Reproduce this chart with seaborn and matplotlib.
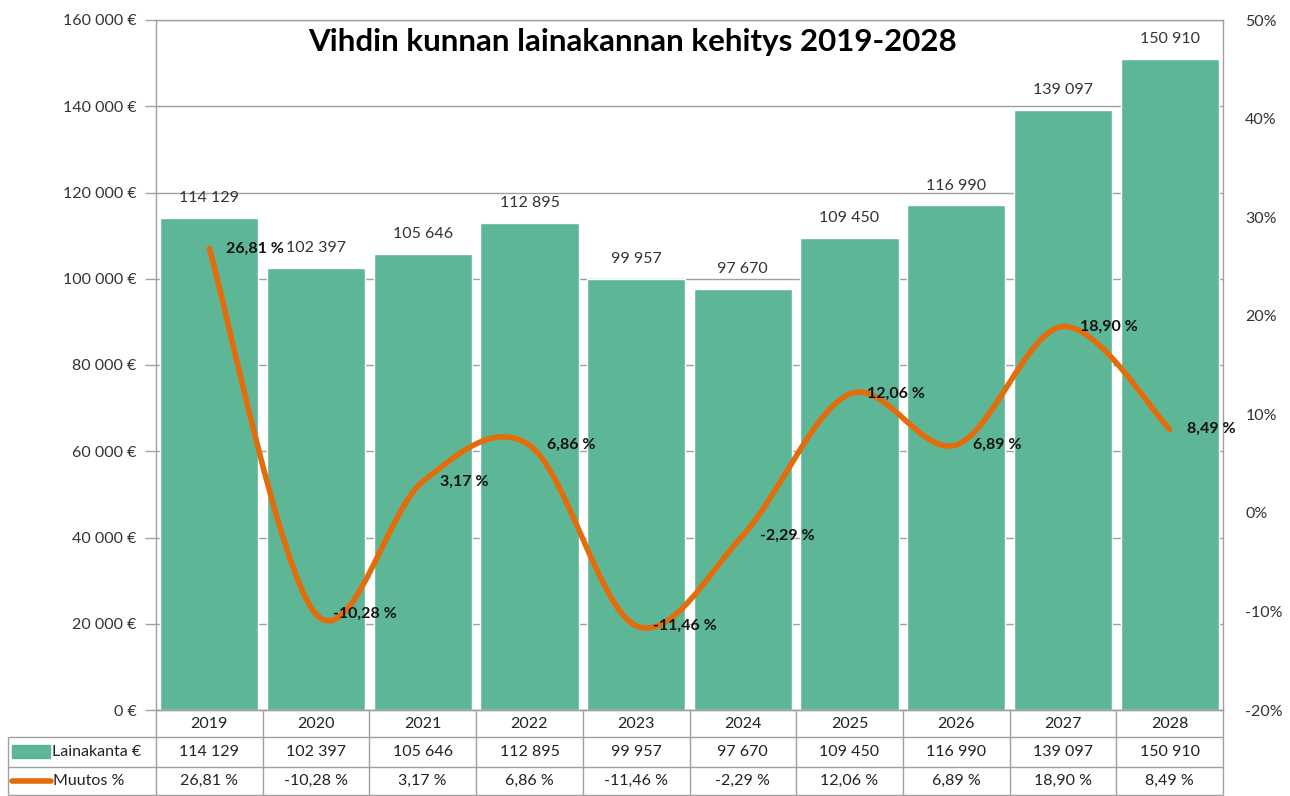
import numpy as np
import pandas as pd
import matplotlib
matplotlib.use("Agg")
import matplotlib.pyplot as plt
import seaborn as sns
from matplotlib.path import Path
from matplotlib.patches import PathPatch, Rectangle
from matplotlib.lines import Line2D
from matplotlib.transforms import blended_transform_factory

years = ["2019", "2020", "2021", "2022", "2023", "2024", "2025", "2026", "2027", "2028"]
lainakanta = [114129, 102397, 105646, 112895, 99957, 97670, 109450, 116990, 139097, 150910]
muutos = [26.81, -10.28, 3.17, 6.86, -11.46, -2.29, 12.06, 6.89, 18.90, 8.49]

GREEN = "#5db797"
ORANGE = "#e46c0a"
GRID = "#a0a0a0"


def fmt_eur(v):
    return f"{v:,.0f}".replace(",", " ")


def fmt_pct(v):
    return f"{v:.2f} %".replace(".", ",")


sns.set_style("white")
plt.rcParams["font.family"] = ["Lato", "DejaVu Sans"]

W, H = 1290, 796
fig = plt.figure(figsize=(W / 100, H / 100), dpi=100)
L, R, T, B = 156, 1223, 20, 710
ax = fig.add_axes([L / W, 1 - B / H, (R - L) / W, (B - T) / H])

df = pd.DataFrame({"year": years, "lainakanta": lainakanta})
sns.barplot(data=df, x="year", y="lainakanta", color=GREEN, saturation=1,
            width=0.92, ax=ax, zorder=2)
ax.set_xlim(-0.5, len(years) - 0.5)
ax.set_ylim(0, 160000)
ax.set_yticks(np.arange(0, 160001, 20000))
ax.set_yticklabels([fmt_eur(v) + " €" for v in ax.get_yticks()], fontsize=11.5, color="#333333")
ax.set_xticks([])
ax.set_xlabel("")
ax.set_ylabel("")
ax.yaxis.grid(True, color=GRID, lw=1, zorder=0)
ax.set_axisbelow(True)
ax.tick_params(axis="y", length=8, width=1, color=GRID, direction="out", pad=6)
for s in ax.spines.values():
    s.set_color(GRID)
    s.set_linewidth(1)
    s.set_visible(True)

for i, v in enumerate(lainakanta):
    ax.text(i, v + 3000, fmt_eur(v), ha="center", va="bottom", fontsize=11.5, color="#333333", zorder=5)

fig.text(633 / W, 1 - 42 / H, "Vihdin kunnan lainakannan kehitys 2019-2028",
         ha="center", va="center", fontsize=22.5, fontweight="bold", color="black", zorder=6)

# secondary axis for change %
ax2 = ax.twinx()
ax2.set_ylim(-20, 50)
ax2.set_yticks(np.arange(-20, 51, 10))
ax2.set_yticklabels([f"{int(t)}%" for t in ax2.get_yticks()], fontsize=11.5, color="#333333")
ax2.tick_params(axis="y", length=0, pad=16)
for s in ax2.spines.values():
    s.set_visible(False)

# smoothed line (Excel-style bezier through the points)
xs = np.arange(len(muutos), dtype=float)
pts = np.column_stack([xs, muutos])
verts = [tuple(pts[0])]
codes = [Path.MOVETO]
n = len(pts)
for i in range(n - 1):
    p0 = pts[max(i - 1, 0)]
    p1 = pts[i]
    p2 = pts[i + 1]
    p3 = pts[min(i + 2, n - 1)]
    c1 = p1 + (p2 - p0) / 6
    c2 = p2 - (p3 - p1) / 6
    verts += [tuple(c1), tuple(c2), tuple(p2)]
    codes += [Path.CURVE4] * 3
ax2.add_patch(PathPatch(Path(verts, codes), fill=False, edgecolor=ORANGE, lw=4,
                        capstyle="round", joinstyle="round", zorder=4))

for i, v in enumerate(muutos):
    ax2.text(i + 0.16, v, fmt_pct(v), ha="left", va="center", fontsize=11.5,
             fontweight="bold", color="#111111", zorder=6)

# data table below the chart
tr = blended_transform_factory(ax.transData, fig.transFigure)
figy = lambda py: 1 - py / H
figx = lambda px: px / W
rows = [710, 737, 767, 795]
edges = np.arange(-0.5, len(years), 1.0)
line_kw = dict(color=GRID, lw=1, solid_capstyle="butt")

for y in rows:
    fig.add_artist(Line2D([-0.5, len(years) - 0.5], [figy(y), figy(y)], transform=tr, **line_kw))
for y in rows[1:]:
    fig.add_artist(Line2D([figx(8), figx(L)], [figy(y), figy(y)], transform=fig.transFigure, **line_kw))
for e in edges:
    fig.add_artist(Line2D([e, e], [figy(rows[0]), figy(rows[-1])], transform=tr, **line_kw))
fig.add_artist(Line2D([figx(8), figx(8)], [figy(rows[1]), figy(rows[-1])], transform=fig.transFigure, **line_kw))

row_mid = [(rows[k] + rows[k + 1]) / 2 for k in range(3)]
for i in range(len(years)):
    fig.text(i, figy(row_mid[0]), years[i], transform=tr, ha="center", va="center", fontsize=11.5, color="#222222")
    fig.text(i, figy(row_mid[1]), fmt_eur(lainakanta[i]), transform=tr, ha="center", va="center", fontsize=11.5, color="#222222")
    fig.text(i, figy(row_mid[2]), fmt_pct(muutos[i]), transform=tr, ha="center", va="center", fontsize=11.5, color="#222222")

fig.add_artist(Rectangle((figx(12), figy(758)), figx(50) - figx(12), figy(745) - figy(758),
                         transform=fig.transFigure, color=GREEN))
fig.text(figx(52), figy(row_mid[1]), "Lainakanta €", ha="left", va="center", fontsize=11.5, color="#222222")
fig.add_artist(Line2D([figx(12), figx(51)], [figy(781), figy(781)], transform=fig.transFigure,
                      color=ORANGE, lw=4, solid_capstyle="round"))
fig.text(figx(53), figy(row_mid[2]), "Muutos %", ha="left", va="center", fontsize=11.5, color="#222222")

fig.savefig("out.png", dpi=100)
